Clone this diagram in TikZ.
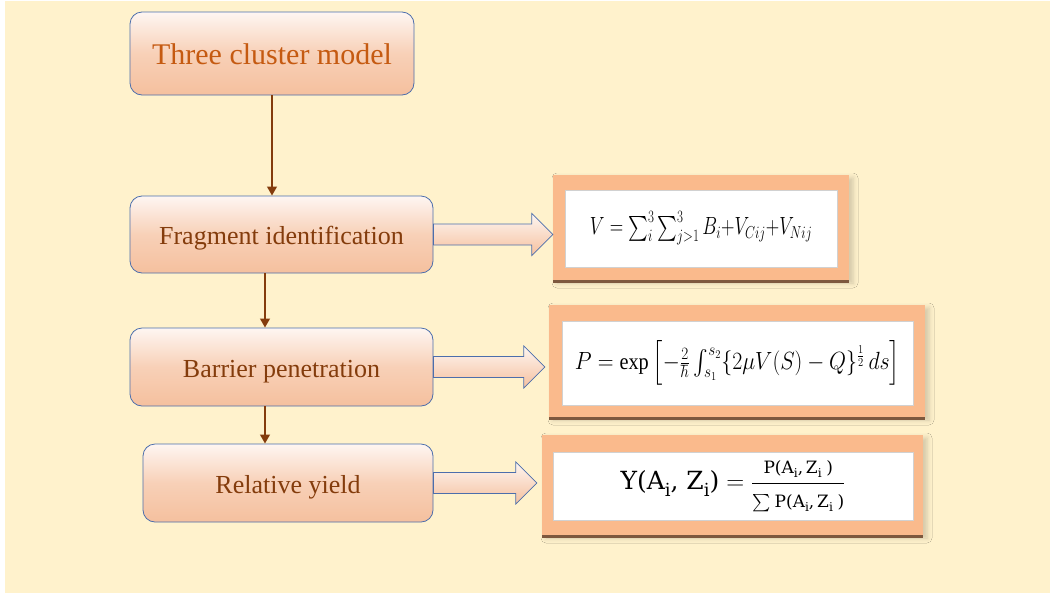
\documentclass[tikz,border=0pt]{standalone}
\usepackage{fontspec}
\usepackage{amsmath}
\usepackage{graphicx}
\setmainfont{Liberation Serif}
\newfontfamily\eqfont{DejaVu Serif}
\usetikzlibrary{calc,arrows.meta,shadows,shadows.blur}

\definecolor{pagecream}{RGB}{255,242,204}
\definecolor{stepedge}{RGB}{76,110,172}
\definecolor{peachlight}{RGB}{254,246,242}
\definecolor{peachdark}{RGB}{245,192,158}
\definecolor{titleorange}{RGB}{197,90,17}
\definecolor{labelbrown}{RGB}{132,60,12}
\definecolor{framepeach}{RGB}{250,186,140}
\definecolor{framebrown}{RGB}{125,88,62}

\tikzset{
  stepbox/.style={rounded corners=12pt, draw=stepedge, line width=0.8pt,
    top color=peachlight, bottom color=peachdark, middle color=peachdark!70!peachlight,
    text=labelbrown, font=\fontsize{26}{30}\selectfont, inner sep=0pt,
    text height=22pt, text depth=2pt},
  flowarrow/.style={draw=labelbrown, line width=2.8pt,
    -{Triangle[length=9pt,width=9.5pt]}},
  blockarrow/.style={draw=stepedge, line width=0.7pt,
    top color=peachlight, bottom color=peachdark},
  formulaframe/.style={fill=framepeach, draw=none, inner sep=0pt,
    blur shadow={shadow xshift=4pt, shadow yshift=-3pt, shadow blur radius=5pt, shadow opacity=18},
    drop shadow={shadow xshift=0pt, shadow yshift=-3pt, fill=framebrown, opacity=1}},
  formulapane/.style={fill=white, draw=black!18, line width=0.8pt, inner sep=0pt}
}

% block arrow from the right side of a step box to a formula frame
\newcommand\blockarrow[3]{%
  \path let \p1=(#1.east), \p2=(#2.west) in
    [blockarrow] (\x1,\y1+10.5pt) -- (\x2-#3-21pt,\y1+10.5pt)
      -- (\x2-#3-21pt,\y1+21pt) -- (\x2-#3,\y1) -- (\x2-#3-21pt,\y1-21pt)
      -- (\x2-#3-21pt,\y1-10.5pt) -- (\x1,\y1-10.5pt) -- cycle;}

% upright letters with an index, for the yield formula
\newcommand\idx[1]{#1\raisebox{-0.28em}{\scalebox{0.72}{i}}}
\newcommand\fracpart{\hbox{\fontsize{17}{19}\selectfont\eqfont P(\idx{A},\,\idx{Z}\;)}}

\begin{document}
\begin{tikzpicture}[x=1pt,y=-1pt]
  \useasboundingbox (0,0) rectangle (1051,595);
  \fill[white] (0,0) rectangle (1051,595);
  \fill[pagecream] (5,1) rectangle (1050,593);

  % process steps
  \node[stepbox, minimum width=284pt, minimum height=83pt, text=titleorange,
        font=\fontsize{30}{34}\selectfont, text height=24pt, text depth=3pt]
        (model) at (272,53.5) {Three cluster model};
  \node[stepbox, minimum width=303pt, minimum height=77pt] (frag) at (281.5,234.5) {Fragment identification};
  \node[stepbox, minimum width=303pt, minimum height=78pt] (barr) at (281.5,367) {Barrier penetration};
  \node[stepbox, minimum width=290pt, minimum height=78pt] (yield) at (288,483) {Relative yield};

  % formula frames
  \node[formulaframe, minimum width=296pt, minimum height=105pt] (f1) at (701,227.5) {};
  \node[formulapane, minimum width=272pt, minimum height=77pt] (p1) at (701,228.5)
    {\fontsize{23}{26}\selectfont\scalebox{0.75}[1]{$V = \textstyle\sum_i^3\sum_{j>1}^3 B_i{+}V_{Cij}{+}V_{Nij}$}};

  \node[formulaframe, minimum width=376pt, minimum height=112pt] (f2) at (737,361) {};
  \node[formulapane, minimum width=351pt, minimum height=84pt] (p2) at (737.5,363)
    {\fontsize{23}{26}\selectfont\scalebox{0.88}[1]{$P = \exp\left[-\tfrac{2}{\hbar}\textstyle\int_{s_1}^{s_2}\{2\mu V(S)-Q\}^{\frac12}\,ds\right]$}};

  \node[formulaframe, minimum width=381pt, minimum height=100pt] (f3) at (732.5,485) {};
  \node[formulapane, minimum width=360pt, minimum height=68pt] (p3) at (733,486)
    {\fontsize{25}{28}\selectfont
     $\hbox{\eqfont Y(\idx{A}, \idx{Z})} =
      \dfrac{\fracpart}
            {\hbox{\fontsize{17}{19}\selectfont$\textstyle\sum$}\,\fracpart}$};

  % flow between steps
  \draw[flowarrow] (model.south) -- (model.south |- frag.north);
  \draw[flowarrow] ([xshift=-16.5pt]frag.south) -- ([xshift=-16.5pt]frag.south |- barr.north);
  \draw[flowarrow] ([xshift=-16.5pt]barr.south) -- ([xshift=-16.5pt]barr.south |- yield.north);

  % links from steps to formulas
  \blockarrow{frag}{f1}{0pt}
  \blockarrow{barr}{f2}{4pt}
  \blockarrow{yield}{f3}{5pt}
\end{tikzpicture}
\end{document}
